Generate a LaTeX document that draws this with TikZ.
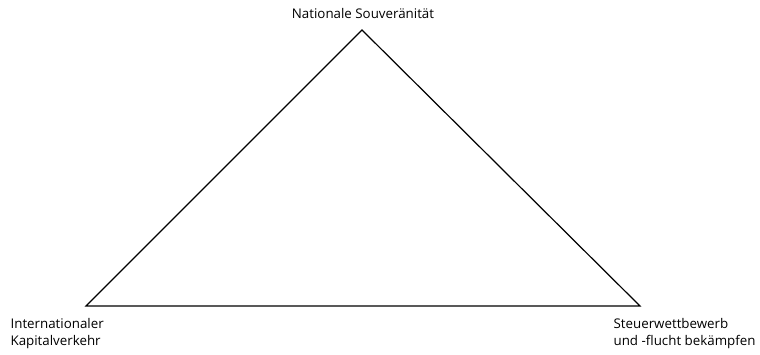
\documentclass[tikz,border=0pt]{standalone}
\usepackage{fontspec}
\setmainfont{Open Sans}
\usetikzlibrary{positioning}

\begin{document}
\begin{tikzpicture}[x=0.75pt, y=-0.75pt, line width=0.9pt,
        ecke/.style={inner sep=0pt, align=left, font=\fontsize{10}{12.6}\selectfont}]
    \useasboundingbox (0,0) rectangle (760,354);

    \coordinate (oben) at (362,30);
    \coordinate (links) at (86,306);
    \coordinate (rechts) at (640,306);
    \draw (oben) -- (links) -- (rechts) -- cycle;

    \node[ecke, anchor=base] (souv) at (363,18) {Nationale Souveränität};
    \node[ecke, anchor=north west] (kapital) at (10,318) {Internationaler\\Kapitalverkehr};
    \node[ecke, anchor=north west] (steuer) at (613,318) {Steuerwettbewerb\\und -flucht bekämpfen};
\end{tikzpicture}
\end{document}
